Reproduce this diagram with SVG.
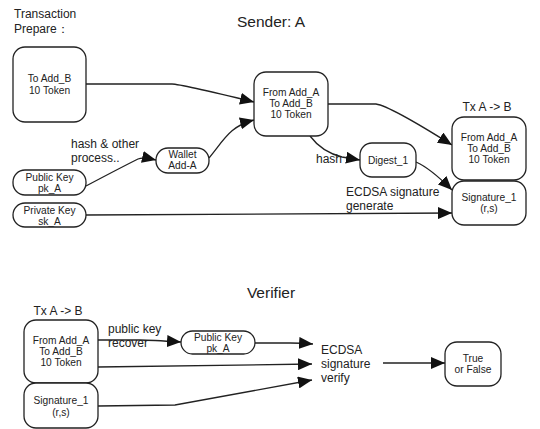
<svg xmlns="http://www.w3.org/2000/svg" width="540" height="429" viewBox="0 0 540 429">
<style>
.n{fill:#fff;stroke:#222;stroke-width:1.3}
.t{font-family:"Liberation Sans",Arial,sans-serif;font-size:10.2px;fill:#222;text-anchor:middle}
.l{font-family:"Liberation Sans",Arial,sans-serif;font-size:12px;fill:#222}
.h{font-family:"Liberation Sans",Arial,sans-serif;font-size:15.5px;fill:#222;text-anchor:middle}
.c{fill:none;stroke:#222;stroke-width:1.3}
</style>
<defs>
<marker id="a" viewBox="0 0 14 12" refX="14" refY="6" markerWidth="14" markerHeight="12" markerUnits="userSpaceOnUse" orient="auto">
<path d="M0,0 L14,6 L0,12 z" fill="#111"/>
</marker>
</defs>
<rect width="540" height="429" fill="#fff"/>
<g id="labels">
<text class="l" x="14" y="18">Transaction</text>
<text class="l" x="14" y="33">Prepare：</text>
<text class="h" x="271" y="27">Sender: A</text>
<text class="l" x="487" y="111" text-anchor="middle">Tx A -&gt; B</text>
<text class="l" x="71" y="148">hash &amp; other</text>
<text class="l" x="71" y="162">process..</text>
<text class="l" x="316" y="163">hash</text>
<text class="l" x="346" y="196">ECDSA signature</text>
<text class="l" x="346" y="210">generate</text>
<text class="h" x="271" y="298">Verifier</text>
<text class="l" x="58" y="315" text-anchor="middle">Tx A -&gt; B</text>
<text class="l" x="108" y="333">public key</text>
<text class="l" x="108" y="347">recover</text>
<text class="l" x="321" y="354">ECDSA</text>
<text class="l" x="321" y="368">signature</text>
<text class="l" x="321" y="382">verify</text>
</g>
<g id="connectors">
<path class="c" marker-end="url(#a)" d="M86,84 L172,84 Q180,84 254,102"/>
<path class="c" marker-end="url(#a)" d="M209,158 C224,140 230,126 254,120"/>
<path class="c" marker-end="url(#a)" d="M86,186 Q120,168 138,159 Q143,157 156,160"/>
<path class="c" marker-end="url(#a)" d="M328,104 L376,104 Q390,106 452,145"/>
<path class="c" marker-end="url(#a)" d="M310,136 Q322,152 342,157 L360,160"/>
<path class="c" marker-end="url(#a)" d="M416,162 Q430,168 452,190"/>
<path class="c" marker-end="url(#a)" d="M86,215 L452,213"/>
<path class="c" marker-end="url(#a)" d="M98,340 L140,340 Q150,340 181,342"/>
<path class="c" marker-end="url(#a)" d="M255,343 L290,343 Q300,343 313,344"/>
<path class="c" marker-end="url(#a)" d="M98,367 L312,364"/>
<path class="c" marker-end="url(#a)" d="M98,406 L175,405 L312,380"/>
<path class="c" marker-end="url(#a)" d="M383,363 L445,363"/>
</g>
<g id="toAddB"><rect class="n" x="13" y="47" width="73" height="75" rx="12"/><text class="t" x="49.5" y="82">To Add_B</text><text class="t" x="49.5" y="94">10 Token</text></g>
<g id="fromA"><rect class="n" x="254" y="72" width="74" height="64" rx="12"/><text class="t" x="291" y="96">From Add_A</text><text class="t" x="291" y="107">To Add_B</text><text class="t" x="291" y="118">10 Token</text></g>
<g id="txAB"><rect class="n" x="452" y="117" width="74" height="63" rx="12"/><text class="t" x="489" y="141">From Add_A</text><text class="t" x="489" y="152">To Add_B</text><text class="t" x="489" y="163">10 Token</text></g>
<g id="sig1"><rect class="n" x="452" y="181" width="74" height="44" rx="12"/><text class="t" x="489" y="201">Signature_1</text><text class="t" x="489" y="212">(r,s)</text></g>
<g id="digest"><rect class="n" x="360" y="143" width="56" height="34" rx="12"/><text class="t" x="388" y="164">Digest_1</text></g>
<g id="pubA"><rect class="n" x="13" y="170" width="73" height="25" rx="12"/><text class="t" x="49.5" y="181">Public Key</text><text class="t" x="49.5" y="192">pk_A</text></g>
<g id="privA"><rect class="n" x="13" y="203" width="73" height="24" rx="12"/><text class="t" x="49.5" y="214">Private Key</text><text class="t" x="49.5" y="225">sk_A</text></g>
<g id="wallet"><rect class="n" x="156" y="148" width="53" height="25" rx="12"/><text class="t" x="182.5" y="158">Wallet</text><text class="t" x="182.5" y="169">Add-A</text></g>
<g id="vTx"><rect class="n" x="24" y="320" width="74" height="63" rx="12"/><text class="t" x="61" y="344">From Add_A</text><text class="t" x="61" y="355">To Add_B</text><text class="t" x="61" y="366">10 Token</text></g>
<g id="vSig"><rect class="n" x="24" y="383" width="74" height="45" rx="12"/><text class="t" x="61" y="404">Signature_1</text><text class="t" x="61" y="416">(r,s)</text></g>
<g id="vPub"><rect class="n" x="181" y="331" width="74" height="23" rx="11.5"/><text class="t" x="218" y="341">Public Key</text><text class="t" x="218" y="352">pk_A</text></g>
<g id="result"><rect class="n" x="445" y="342" width="56" height="44" rx="12"/><text class="t" x="473" y="362">True</text><text class="t" x="473" y="373">or False</text></g>
</svg>
